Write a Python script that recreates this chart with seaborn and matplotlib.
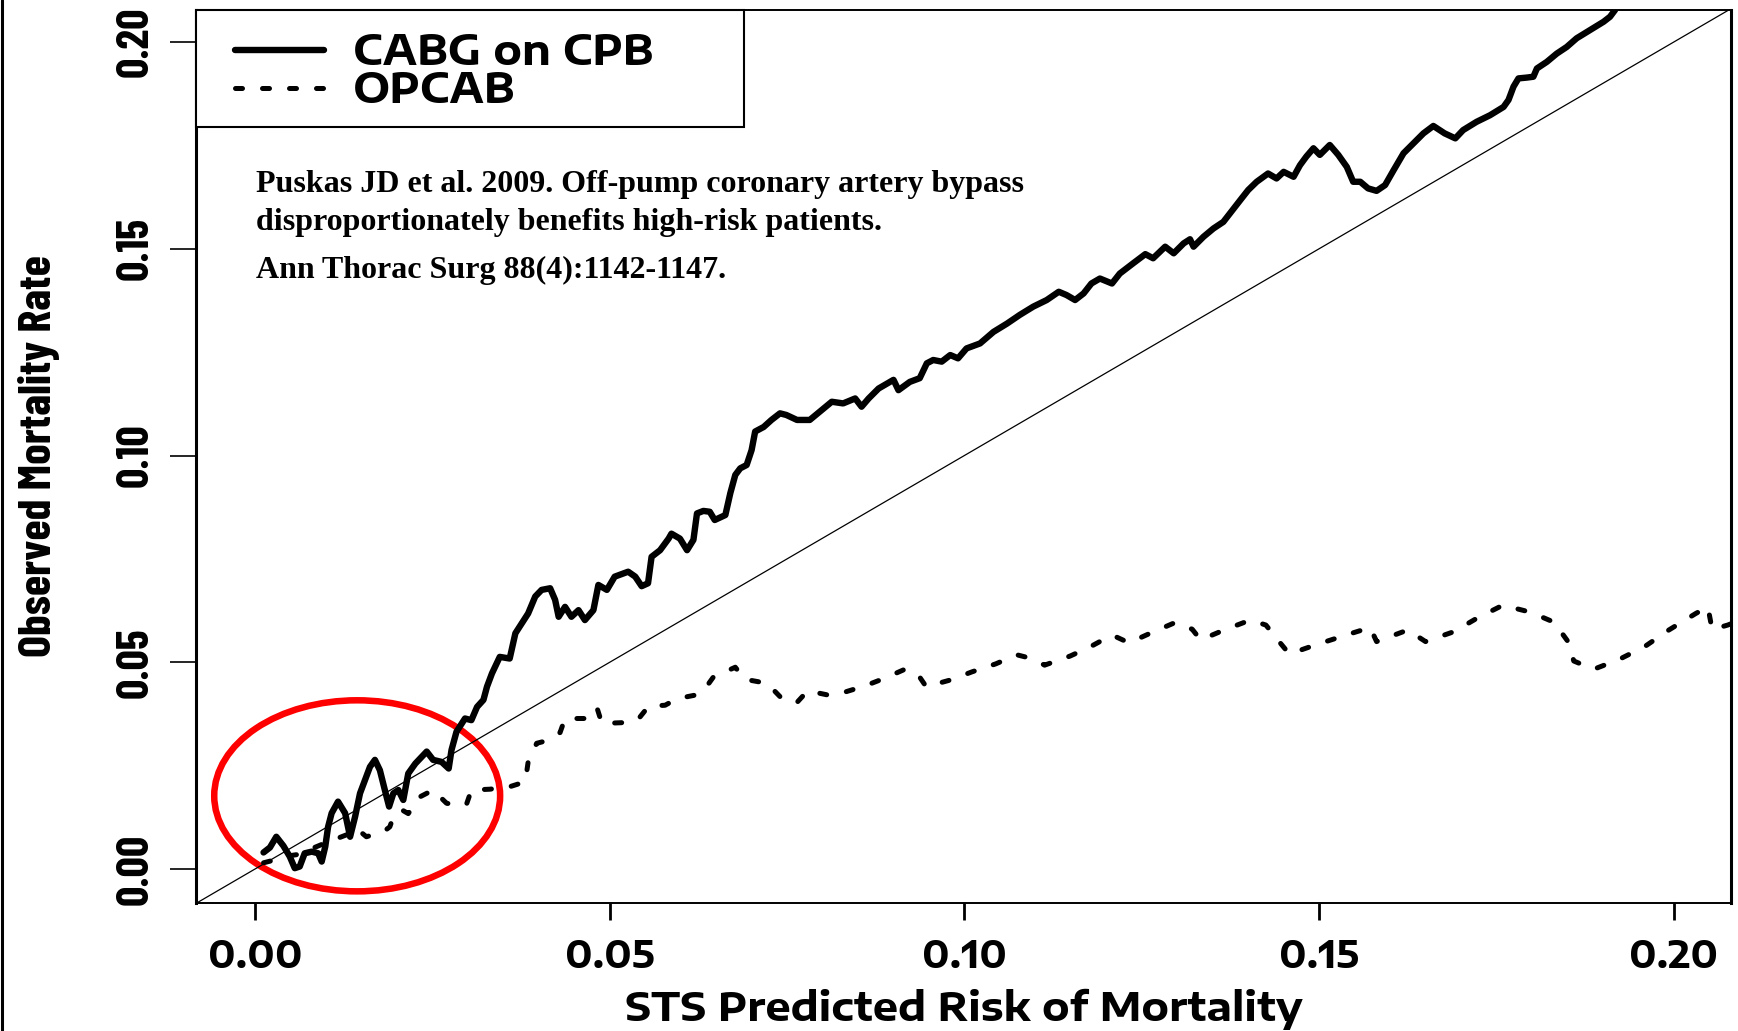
import numpy as np
import pandas as pd
import seaborn as sns
import matplotlib
matplotlib.use("Agg")
import matplotlib.pyplot as plt
from matplotlib import font_manager as fm
from matplotlib.textpath import TextPath
from matplotlib.patches import Ellipse, Rectangle
from matplotlib.lines import Line2D
from matplotlib.legend_handler import HandlerLine2D

# ---- data: observed vs STS predicted mortality (running estimates) ----
cabg_pred = [0.0012, 0.0021, 0.0030, 0.0040, 0.0049, 0.0056, 0.0063, 0.0070, 0.0080, 0.0089,
             0.0094, 0.0099, 0.0103, 0.0108, 0.0117, 0.0127, 0.0134, 0.0141, 0.0148, 0.0155,
             0.0162, 0.0169, 0.0176, 0.0183, 0.0189, 0.0195, 0.0202, 0.0209, 0.0216, 0.0226,
             0.0242, 0.0251, 0.0263, 0.0273, 0.0277, 0.0284, 0.0296, 0.0305, 0.0313, 0.0322,
             0.0327, 0.0334, 0.0345, 0.0359, 0.0367, 0.0376, 0.0385, 0.0395, 0.0404, 0.0416,
             0.0423, 0.0428, 0.0437, 0.0446, 0.0456, 0.0465, 0.0477, 0.0484, 0.0496, 0.0507,
             0.0526, 0.0536, 0.0545, 0.0554, 0.0559, 0.0571, 0.0583, 0.0587, 0.0599, 0.0609,
             0.0618, 0.0623, 0.0632, 0.0641, 0.0648, 0.0663, 0.0670, 0.0677, 0.0684, 0.0693,
             0.0700, 0.0705, 0.0717, 0.0728, 0.0740, 0.0749, 0.0764, 0.0782, 0.0796, 0.0813,
             0.0829, 0.0846, 0.0855, 0.0865, 0.0879, 0.0900, 0.0907, 0.0923, 0.0937, 0.0947,
             0.0956, 0.0968, 0.0980, 0.0991, 0.1003, 0.1022, 0.1041, 0.1060, 0.1078, 0.1097,
             0.1116, 0.1133, 0.1144, 0.1156, 0.1168, 0.1179, 0.1191, 0.1208, 0.1219, 0.1238,
             0.1255, 0.1266, 0.1283, 0.1295, 0.1309, 0.1318, 0.1323, 0.1337, 0.1351, 0.1365,
             0.1374, 0.1389, 0.1400, 0.1412, 0.1428, 0.1440, 0.1450, 0.1464, 0.1473, 0.1482,
             0.1492, 0.1501, 0.1515, 0.1527, 0.1539, 0.1548, 0.1558, 0.1569, 0.1581, 0.1593,
             0.1605, 0.1619, 0.1633, 0.1647, 0.1661, 0.1677, 0.1692, 0.1703, 0.1722, 0.1741,
             0.1760, 0.1767, 0.1774, 0.1781, 0.1793, 0.1802, 0.1807, 0.1821, 0.1835, 0.1849,
             0.1863, 0.1882, 0.1901, 0.1910, 0.1917, 0.1924]
cabg_obs = [0.0040, 0.0052, 0.0078, 0.0056, 0.0030, 0.0002, 0.0006, 0.0038, 0.0042, 0.0038,
            0.0018, 0.0054, 0.0102, 0.0135, 0.0163, 0.0135, 0.0078, 0.0126, 0.0183, 0.0215,
            0.0247, 0.0264, 0.0239, 0.0191, 0.0151, 0.0183, 0.0191, 0.0167, 0.0231, 0.0255,
            0.0284, 0.0264, 0.0259, 0.0243, 0.0288, 0.0332, 0.0364, 0.0360, 0.0392, 0.0409,
            0.0441, 0.0473, 0.0513, 0.0509, 0.0570, 0.0594, 0.0618, 0.0659, 0.0675, 0.0679,
            0.0651, 0.0610, 0.0634, 0.0610, 0.0626, 0.0602, 0.0626, 0.0687, 0.0675, 0.0707,
            0.0719, 0.0707, 0.0684, 0.0691, 0.0755, 0.0771, 0.0799, 0.0811, 0.0799, 0.0771,
            0.0796, 0.0860, 0.0866, 0.0864, 0.0844, 0.0856, 0.0909, 0.0953, 0.0969, 0.0977,
            0.1013, 0.1058, 0.1069, 0.1086, 0.1102, 0.1098, 0.1086, 0.1086, 0.1106, 0.1130,
            0.1126, 0.1138, 0.1118, 0.1138, 0.1162, 0.1183, 0.1158, 0.1178, 0.1187, 0.1223,
            0.1231, 0.1227, 0.1243, 0.1235, 0.1259, 0.1271, 0.1299, 0.1319, 0.1340, 0.1360,
            0.1376, 0.1396, 0.1388, 0.1376, 0.1392, 0.1416, 0.1428, 0.1416, 0.1440, 0.1465,
            0.1487, 0.1477, 0.1505, 0.1489, 0.1513, 0.1523, 0.1505, 0.1529, 0.1549, 0.1565,
            0.1585, 0.1618, 0.1642, 0.1662, 0.1682, 0.1670, 0.1686, 0.1674, 0.1702, 0.1723,
            0.1743, 0.1727, 0.1751, 0.1727, 0.1698, 0.1662, 0.1662, 0.1646, 0.1640, 0.1654,
            0.1690, 0.1731, 0.1755, 0.1779, 0.1797, 0.1779, 0.1767, 0.1787, 0.1807, 0.1823,
            0.1843, 0.1860, 0.1892, 0.1912, 0.1914, 0.1916, 0.1936, 0.1952, 0.1972, 0.1988,
            0.2009, 0.2029, 0.2049, 0.2061, 0.2077, 0.2102]

opcab_pred = [0.0012, 0.0028, 0.0040, 0.0060, 0.0095, 0.0134, 0.0143, 0.0157, 0.0172, 0.0181,
              0.0190, 0.0195, 0.0207, 0.0216, 0.0233, 0.0251, 0.0270, 0.0284, 0.0298, 0.0305,
              0.0331, 0.0359, 0.0381, 0.0385, 0.0397, 0.0406, 0.0430, 0.0437, 0.0468, 0.0482,
              0.0489, 0.0519, 0.0540, 0.0555, 0.0578, 0.0595, 0.0622, 0.0633, 0.0646, 0.0677,
              0.0690, 0.0722, 0.0740, 0.0763, 0.0779, 0.0807, 0.0826, 0.0860, 0.0887, 0.0916,
              0.0935, 0.0946, 0.0980, 0.1011, 0.1044, 0.1074, 0.1097, 0.1113, 0.1149, 0.1178,
              0.1208, 0.1232, 0.1263, 0.1297, 0.1321, 0.1333, 0.1366, 0.1403, 0.1425, 0.1445,
              0.1458, 0.1495, 0.1542, 0.1572, 0.1581, 0.1625, 0.1650, 0.1690, 0.1722, 0.1759,
              0.1798, 0.1831, 0.1850, 0.1859, 0.1887, 0.1923, 0.1959, 0.1993, 0.2031, 0.2048,
              0.2054, 0.2076, 0.2094]
opcab_obs = [0.0015, 0.0022, 0.0030, 0.0035, 0.0060, 0.0086, 0.0098, 0.0078, 0.0086, 0.0090,
             0.0102, 0.0126, 0.0143, 0.0134, 0.0175, 0.0191, 0.0159, 0.0155, 0.0156, 0.0191,
             0.0193, 0.0199, 0.0211, 0.0259, 0.0304, 0.0308, 0.0330, 0.0364, 0.0364, 0.0390,
             0.0352, 0.0354, 0.0362, 0.0394, 0.0396, 0.0412, 0.0421, 0.0433, 0.0464, 0.0488,
             0.0459, 0.0449, 0.0417, 0.0401, 0.0431, 0.0421, 0.0425, 0.0443, 0.0461, 0.0483,
             0.0469, 0.0441, 0.0457, 0.0477, 0.0496, 0.0518, 0.0508, 0.0493, 0.0515, 0.0538,
             0.0566, 0.0547, 0.0571, 0.0596, 0.0580, 0.0554, 0.0578, 0.0602, 0.0590, 0.0547,
             0.0520, 0.0542, 0.0568, 0.0584, 0.0550, 0.0578, 0.0550, 0.0574, 0.0606, 0.0638,
             0.0621, 0.0597, 0.0552, 0.0503, 0.0483, 0.0507, 0.0538, 0.0578, 0.0618, 0.0634,
             0.0579, 0.0590, 0.0602]

series_labels = ["CABG on CPB", "OPCAB"]
tick_values = [0.00, 0.05, 0.10, 0.15, 0.20]
tick_labels = ["0.00", "0.05", "0.10", "0.15", "0.20"]
x_title = "STS Predicted Risk of Mortality"
y_title = "Observed Mortality Rate"
citation_lines = [
    "Puskas JD et al. 2009. Off-pump coronary artery bypass",
    "disproportionately benefits high-risk patients.",
    "Ann Thorac Surg 88(4):1142-1147.",
]
# low-risk region ringed in red: centre and full width / height in data units
ring_center = (0.0144, 0.0177)
ring_size = (0.0403, 0.0462)

# ---- canvas geometry (pixels, measured from the top-left corner) ----
W, H = 1738, 1031
AX_L, AX_R, AX_T, AX_B = 196, 1731, 10, 903
PX = 72 / 100  # points per pixel at 100 dpi

sns.set_theme(style="ticks", rc={
    "axes.edgecolor": "black", "xtick.color": "black", "ytick.color": "black",
    "text.color": "black", "axes.labelcolor": "black",
})
plt.rcParams["font.family"] = ["DejaVu Sans"]

# ---- font helpers: condensed face for vertical texts, expanded for horizontal ----
_WEIGHTS = {"ultralight": 200, "light": 300, "normal": 400, "regular": 400, "book": 400,
            "roman": 400, "medium": 500, "semibold": 600, "demibold": 600, "demi": 600,
            "bold": 700, "heavy": 800, "extra bold": 800, "black": 900}


def weight_num(w):
    if isinstance(w, (int, float)):
        return int(w)
    return _WEIGHTS.get(str(w).lower(), 400)


def bold_file(family):
    entries = [f for f in fm.fontManager.ttflist
               if f.name == family and f.style == "normal" and 600 <= weight_num(f.weight) <= 800]
    if not entries:
        return None
    entries.sort(key=lambda f: abs(weight_num(f.weight) - 700))
    return entries[0].fname


def ink(s, path):
    return TextPath((0, 0), s, size=100, prop=fm.FontProperties(fname=path)).get_extents()


DEFAULT_BOLD = fm.findfont(fm.FontProperties(family="DejaVu Sans", weight="bold"))


def choose(families, sample, aspect):
    best = None
    for fam in families:
        try:
            p = bold_file(fam)
            if p is None:
                continue
            e = ink(sample, p)
            if e.height <= 0 or e.width <= 0:
                continue
            err = abs(np.log((e.width / e.height) / aspect))
            if best is None or err < best[0]:
                best = (err, p)
        except Exception:
            continue
    return best[1] if best else DEFAULT_BOLD


def fit_size(path, s, width_px, height_px, h_sample, w_weight=0.5):
    e = ink(s, path)
    eh = ink(h_sample, path)
    sw = np.log(width_px * 72 / e.width)
    sh = np.log(height_px * 72 / eh.y1)
    return float(np.clip(np.exp(w_weight * sw + (1 - w_weight) * sh), 8, 60))


def asc_px(path, size, s):
    return max(ink("lp", path).y1, ink(s, path).y1) * size / 72


def desc_px(path, size, s):
    return max(-ink("lp", path).y0, -ink(s, path).y0, 0) * size / 72


narrow_path = choose(["Liberation Sans Narrow", "Arial Narrow", "Roboto Condensed",
                      "Archivo Narrow", "Sofia Sans Condensed", "Sofia Sans Extra Condensed",
                      "Encode Sans Condensed", "Encode Sans Compressed", "Barlow Condensed",
                      "IBM Plex Sans Condensed", "Fira Sans Condensed",
                      "Fira Sans Extra Condensed", "PT Sans Narrow", "Open Sans Condensed",
                      "Oswald", "Liberation Sans"], "0.00", 59 / 37)
wide_path = choose(["Encode Sans Expanded", "Encode Sans Semi Expanded", "Archivo Expanded",
                    "Archivo SemiExpanded", "Lexend Exa", "Lexend Giga", "Montserrat",
                    "DejaVu Sans"], "0.00", 100 / 23)

ytick_size = fit_size(narrow_path, "0.00", 59, 37, "0")
ylab_size = fit_size(narrow_path, y_title, 382, 34, "H")
xtick_size = fit_size(wide_path, "0.00", 100, 23, "0", w_weight=0.65)
xlab_size = fit_size(wide_path, x_title, 759, 24, "H", w_weight=0.65)
leg_size = fit_size(wide_path, series_labels[0], 344, 23.3, "H", w_weight=0.65)

# ---- figure ----
fig = plt.figure(figsize=(W / 100, H / 100), dpi=100)
fig.patch.set_facecolor("white")
ax = fig.add_axes([AX_L / W, 1 - AX_B / H, (AX_R - AX_L) / W, (AX_B - AX_T) / H])
ax.set_facecolor("white")


def ax_x(px):
    return (px - AX_L) / (AX_R - AX_L)


def ax_y(py):
    return (AX_B - py) / (AX_B - AX_T)


df_cabg = pd.DataFrame({"pred": cabg_pred, "obs": cabg_obs})
df_opcab = pd.DataFrame({"pred": opcab_pred, "obs": opcab_obs})

# identity line (observed = expected)
ax.axline((0, 0), slope=1, color="black", lw=0.9, zorder=2)

sns.lineplot(data=df_cabg, x="pred", y="obs", ax=ax, color="black", lw=4.6,
             estimator=None, sort=False, legend=False,
             solid_joinstyle="round", solid_capstyle="round", zorder=3)
opcab_dash = (0, (1.4, 4.0))
sns.lineplot(data=df_opcab, x="pred", y="obs", ax=ax, color="black", lw=3.6,
             estimator=None, sort=False, legend=False,
             linestyle=opcab_dash, dash_capstyle="round", dash_joinstyle="round",
             zorder=3)
cabg_line, opcab_line = ax.lines[-2], ax.lines[-1]
opcab_line.set_linestyle(opcab_dash)

ax.add_patch(Ellipse(ring_center, ring_size[0], ring_size[1], fill=False,
                     edgecolor="#ff0000", lw=4.7, zorder=1.5))

ax.set_xlim(-0.00832, 0.20806)
ax.set_ylim(-0.00822, 0.20774)

# ---- ticks ----
X_TICK_LEN, Y_TICK_LEN = 17, 26  # px
ax.set_xticks(tick_values)
ax.set_xticklabels(tick_labels, fontproperties=fm.FontProperties(fname=wide_path, size=xtick_size))
ax.set_yticks(tick_values)
ax.set_yticklabels(tick_labels, fontproperties=fm.FontProperties(fname=narrow_path, size=ytick_size),
                   rotation=90, va="center")

# x tick digits: top at 940 px; y tick digits: baseline at 147 px
xt_digit = ink("0", wide_path).y1 * xtick_size / 72
xt_top_target = 940 + xt_digit - asc_px(wide_path, xtick_size, "0.00")
x_pad_px = max(xt_top_target - (AX_B + X_TICK_LEN), 0)
yt_right_target = 147 + desc_px(narrow_path, ytick_size, "0.00")
y_pad_px = max((AX_L - Y_TICK_LEN) - yt_right_target, 0)
ax.tick_params(axis="x", direction="out", length=X_TICK_LEN * PX, width=2.0, pad=x_pad_px * PX)
ax.tick_params(axis="y", direction="out", length=Y_TICK_LEN * PX, width=1.2, pad=y_pad_px * PX)

for side in ["left", "right"]:
    ax.spines[side].set_linewidth(2.2)
for side in ["top", "bottom"]:
    ax.spines[side].set_linewidth(1.4)
for sp in ax.spines.values():
    sp.set_visible(True)
    sp.set_color("black")

# ---- axis titles ----
ax.set_xlabel(x_title, fontproperties=fm.FontProperties(fname=wide_path, size=xlab_size))
xl_top_target = 1022 - asc_px(wide_path, xlab_size, x_title)
ax.xaxis.set_label_coords(0.5, ax_y(xl_top_target))

ax.set_ylabel(y_title, fontproperties=fm.FontProperties(fname=narrow_path, size=ylab_size))
yl_cap = ink("H", narrow_path).y1 * ylab_size / 72
yl_right_target = 34.5 + yl_cap / 2 + desc_px(narrow_path, ylab_size, y_title)
ax.yaxis.set_label_coords(ax_x(yl_right_target), 0.5)

# ---- legend (box drawn as its own frame, entries placed inside) ----
F = leg_size * 100 / 72
leg_asc = asc_px(wide_path, leg_size, series_labels[0])
leg_desc = desc_px(wide_path, leg_size, series_labels[0])
MP = 0.3
hl = 89 / F + 2 * MP
box_left = 235 - MP * F
htp = (353 - (box_left + hl * F)) / F
hh = max((32 / F - 0.245) / 0.65, 0.7)
row_up = max(leg_asc, F * (0.65 * hh + 0.245))
row_dn = max(leg_desc, 0.35 * F * (hh - 0.7))
leg_ls = (38.3 - (row_up + row_dn)) / F
leg_top = 65 - row_up


def make_legend(top_px, ls):
    lg = ax.legend([cabg_line, opcab_line], series_labels,
                   prop=fm.FontProperties(fname=wide_path, size=leg_size),
                   loc="upper left", bbox_to_anchor=(ax_x(box_left), ax_y(top_px)),
                   borderaxespad=0, borderpad=0, handlelength=hl, handleheight=hh,
                   handletextpad=htp, labelspacing=ls, frameon=False,
                   handler_map={cabg_line: HandlerLine2D(marker_pad=MP, numpoints=2),
                                opcab_line: HandlerLine2D(marker_pad=MP, numpoints=2)})
    lg.set_zorder(6)
    return lg


leg = make_legend(leg_top, leg_ls)
ax.add_patch(Rectangle((0, ax_y(127)), ax_x(744), 1 - ax_y(127), transform=ax.transAxes,
                       facecolor="white", edgecolor="black", lw=1.5, zorder=5, clip_on=False))

# ---- citation ----
baselines = [191.7, 230.0, 278.0]
for line, yb in zip(citation_lines, baselines):
    fig.text(256 / W, 1 - yb / H, line, family="Liberation Serif", weight="bold",
             fontsize=23, va="baseline", ha="left")

# thin frame rule on the left edge of the canvas
fig.add_artist(Line2D([1.5 / W, 1.5 / W], [0, 1], transform=fig.transFigure,
                      color="black", lw=2.2))

# ---- settle text offsets from the rendered extents ----
try:
    fig.canvas.draw()
    r = fig.canvas.get_renderer()
    xb = ax.get_xticklabels()[0].get_window_extent(r)
    x_pad_px = max(x_pad_px + (xt_top_target - (H - xb.y1)), 0)
    ax.tick_params(axis="x", pad=x_pad_px * PX)
    yb = ax.get_yticklabels()[0].get_window_extent(r)
    y_pad_px = max(y_pad_px + (yb.x1 - yt_right_target), 0)
    ax.tick_params(axis="y", pad=y_pad_px * PX)
    lb = ax.xaxis.label.get_window_extent(r)
    ax.xaxis.set_label_coords(0.5, ax_y(xl_top_target + (xl_top_target - (H - lb.y1))))
    lb = ax.yaxis.label.get_window_extent(r)
    ax.yaxis.set_label_coords(ax_x(yl_right_target + (yl_right_target - lb.x1)), 0.5)
    t1, t2 = leg.get_texts()
    b1 = (H - t1.get_window_extent(r).y0) - leg_desc
    b2 = (H - t2.get_window_extent(r).y0) - leg_desc
    new_ls = leg_ls + (38.3 - (b2 - b1)) / F
    new_top = leg_top + (65 - b1)
    leg.remove()
    leg = make_legend(new_top, new_ls)
except Exception:
    pass

fig.savefig("out.png", dpi=100, facecolor="white")
